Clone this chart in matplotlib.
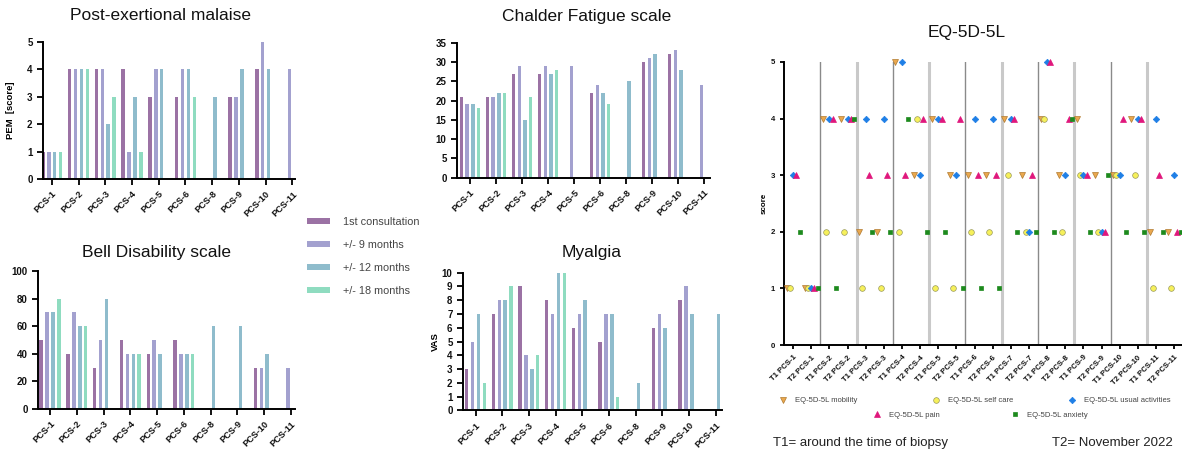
import numpy as np
import matplotlib.pyplot as plt

plt.rcParams['font.family'] = ['Liberation Sans', 'DejaVu Sans']

W, H = 1182, 457
nan = np.nan

# bar panels: patients on x, four follow-up moments
patients = ['PCS-1', 'PCS-2', 'PCS-3', 'PCS-4', 'PCS-5', 'PCS-6', 'PCS-8', 'PCS-9', 'PCS-10', 'PCS-11']
timepoints = ['1st consultation', '+/- 9 months', '+/- 12 months', '+/- 18 months']
bar_colors = ['#9b72a4', '#a3a1cf', '#8fbccc', '#8fdcc0']

pem_1st = [1, 4, 4, 4, 3, 3, nan, 3, 4, nan]
pem_9m = [1, 4, 4, 1, 4, 4, nan, 3, 5, 4]
pem_12m = [1, 4, 2, 3, 4, 4, 3, 4, 4, nan]
pem_18m = [1, 4, 3, 1, nan, 3, nan, nan, nan, nan]

cfs_1st = [21, 21, 27, 27, nan, 22, nan, 30, 32, nan]
cfs_9m = [19, 21, 29, 29, 29, 24, nan, 31, 33, 24]
cfs_12m = [19, 22, 15, 27, nan, 22, 25, 32, 28, nan]
cfs_18m = [18, 22, 21, 28, nan, 19, nan, nan, nan, nan]

bell_1st = [50, 40, 30, 50, 40, 50, nan, nan, 30, nan]
bell_9m = [70, 70, 50, 40, 50, 40, nan, nan, 30, 30]
bell_12m = [70, 60, 80, 40, 40, 40, 60, 60, 40, nan]
bell_18m = [80, 60, nan, 40, nan, 40, nan, nan, nan, nan]

vas_1st = [3, 7, 9, 8, 6, 5, nan, 6, 8, nan]
vas_9m = [5, 8, 4, 7, 7, 7, nan, 7, 9, nan]
vas_12m = [7, 8, 3, 10, 8, 7, 2, 6, 7, 7]
vas_18m = [2, 9, 4, 10, nan, 1, nan, nan, nan, nan]

# EQ-5D-5L panel
eq_labels = ['T1 PCS-1', 'T2 PCS-1', 'T1 PCS-2', 'T2 PCS-2', 'T1 PCS-3', 'T2 PCS-3',
             'T1 PCS-4', 'T2 PCS-4', 'T1 PCS-5', 'T2 PCS-5', 'T1 PCS-6', 'T2 PCS-6',
             'T1 PCS-7', 'T2 PCS-7', 'T1 PCS-8', 'T2 PCS-8', 'T1 PCS-9', 'T2 PCS-9',
             'T1 PCS-10', 'T2 PCS-10', 'T1 PCS-11', 'T2 PCS-11']
eq_mobility = [1, 1, 4, 4, 2, 2, 5, 3, 4, 3, 3, 3, 4, 3, 4, 3, 4, 3, 3, 4, 2, 2]
eq_selfcare = [1, 1, 2, 2, 1, 1, 2, 4, 1, 1, 2, 2, 3, 2, 4, 2, 3, 2, 3, 3, 1, 1]
eq_usual = [3, 1, 4, 4, 4, 4, 5, 3, 4, 3, 4, 4, 4, 2, 5, 3, 3, 2, 3, 4, 4, 3]
eq_pain = [3, 1, 4, 4, 3, 3, 3, 4, 4, 4, 3, 3, 4, 3, 5, 4, 3, 2, 4, 4, 3, 2]
eq_anxiety = [2, 1, 1, 4, 2, 2, 4, 2, 2, 1, 1, 1, 2, 2, 2, 4, 2, 3, 2, 2, 2, 2]

fig = plt.figure(figsize=(W / 100, H / 100), dpi=100)


def px_rect(left, right, top, bottom):
    return [left / W, 1 - bottom / H, (right - left) / W, (bottom - top) / H]


def style_axes(ax, fs=6.5, yfs=None, lw=1.4):
    for s in ['top', 'right']:
        ax.spines[s].set_visible(False)
    for s in ['left', 'bottom']:
        ax.spines[s].set_linewidth(lw)
    ax.tick_params(direction='out', length=4, width=lw, labelsize=fs, colors='#111')
    if yfs:
        ax.tick_params(axis='y', labelsize=yfs)
    for lab in ax.get_xticklabels() + ax.get_yticklabels():
        lab.set_fontweight('bold')


def bar_panel(rect, series, ymax, ystep, xlim, ylabel=None, ylabel_x=None):
    ax = fig.add_axes(rect)
    x = np.arange(len(patients))
    offsets = [-1.5, -0.5, 0.5, 1.5]
    bars = []
    for vals, off, col, lab in zip(series, offsets, bar_colors, timepoints):
        bars.append(ax.bar(x + off * 0.22, vals, width=0.13, color=col, label=lab, zorder=2))
    ax.set_xlim(*xlim)
    ax.set_ylim(0, ymax)
    ax.set_yticks(np.arange(0, ymax + 0.01, ystep))
    ax.set_xticks(x)
    ax.set_xticklabels(patients, rotation=45, ha='right', rotation_mode='anchor')
    style_axes(ax, fs=6.6, yfs=7)
    if ylabel:
        ax.set_ylabel(ylabel, fontsize=6.8, fontweight='bold')
        ax.yaxis.set_label_coords(ylabel_x, 0.5)
    return ax, bars


ax_pem, pem_bars = bar_panel(px_rect(43, 295, 41.7, 179), [pem_1st, pem_9m, pem_12m, pem_18m],
                             5, 1, (-0.33, 9.1), 'PEM  [score]', -0.11)
ax_cfs, _ = bar_panel(px_rect(457, 710, 42.7, 177.7), [cfs_1st, cfs_9m, cfs_12m, cfs_18m],
                      35, 5, (-0.5, 9.22))
ax_bell, _ = bar_panel(px_rect(38, 295, 271, 409), [bell_1st, bell_9m, bell_12m, bell_18m],
                       100, 20, (-0.45, 9.15))
ax_vas, _ = bar_panel(px_rect(463, 722, 272.7, 410.3), [vas_1st, vas_9m, vas_12m, vas_18m],
                      10, 1, (-0.47, 9.24), 'VAS', -0.09)

title_kw = dict(fontsize=12.5, ha='center', va='center', color='#111')
fig.text(161 / W, 1 - 16 / H, 'Post-exertional malaise', **title_kw)
fig.text(587 / W, 1 - 16 / H, 'Chalder Fatigue scale', **title_kw)
fig.text(157 / W, 1 - 252 / H, 'Bell Disability scale', **title_kw)
fig.text(592 / W, 1 - 252 / H, 'Myalgia', **title_kw)
fig.text(967 / W, 1 - 33 / H, 'EQ-5D-5L', **title_kw)

fig.legend(handles=[b for b in pem_bars], labels=timepoints, loc='upper left',
           bbox_to_anchor=(307 / W, 1 - 217 / H), frameon=False, fontsize=7.8,
           handlelength=2.1, handleheight=0.4, handletextpad=1.2, labelspacing=1.2,
           borderpad=0, borderaxespad=0, labelcolor='#444')

# EQ-5D-5L scatter
eq = fig.add_axes(px_rect(784, 1182, 62, 345))
xe = np.arange(len(eq_labels))
dims = [
    (eq_mobility, 'v', '#eaa84e', '#b07a30', 'EQ-5D-5L mobility'),
    (eq_selfcare, 'o', '#f6f05a', '#9a9a60', 'EQ-5D-5L self care'),
    (eq_usual, 'D', '#1f7fe6', '#1f7fe6', 'EQ-5D-5L usual activities'),
    (eq_pain, '^', '#e0177c', '#e0177c', 'EQ-5D-5L pain'),
    (eq_anxiety, 's', '#1d8a1d', '#1d8a1d', 'EQ-5D-5L anxiety'),
]
offs = np.linspace(-0.36, 0.36, len(dims))
handles = []
for (vals, m, fc, ec, lab), off in zip(dims, offs):
    ms = 3.3 if m in ('D', 's') else 4.1
    h, = eq.plot(xe + off, vals, ls='none', marker=m, ms=ms, mfc=fc, mec=ec, mew=0.5,
                 label=lab, clip_on=False, zorder=3)
    handles.append(h)

for k in range(1, len(eq_labels) // 2):
    dark = k % 2 == 1
    eq.axvline(2 * k - 0.5, color='#8a8a8a' if dark else '#c9c9c9', lw=1.0 if dark else 2.2, zorder=1)

eq.set_xlim(-0.5, 21.43)
eq.set_ylim(0, 5)
eq.set_yticks(range(0, 6))
eq.set_xticks(xe)
eq.set_xticklabels(eq_labels, rotation=45, ha='right', rotation_mode='anchor')
style_axes(eq, fs=5.6)
eq.tick_params(length=3)
eq.set_ylabel('score', fontsize=5.8, fontweight='bold')
eq.yaxis.set_label_coords(-0.042, 0.5)

leg_pos = [(783, 400.7), (936, 400.7), (1072, 400.7), (877, 415), (1015, 415)]
for h, (mx, my) in zip(handles, leg_pos):
    fig.legend(handles=[h], loc='center left', bbox_to_anchor=((mx - 3.8) / W, 1 - my / H),
               frameon=False, fontsize=5.5, handlelength=1.0, handletextpad=1.1,
               borderpad=0, borderaxespad=0, labelcolor='#444')

fig.text(773 / W, 1 - 443 / H, 'T1= around the time of biopsy', fontsize=9.5, va='center', color='#222')
fig.text(1052 / W, 1 - 443 / H, 'T2= November 2022', fontsize=9.5, va='center', color='#222')

fig.savefig('out.png', dpi=100)
